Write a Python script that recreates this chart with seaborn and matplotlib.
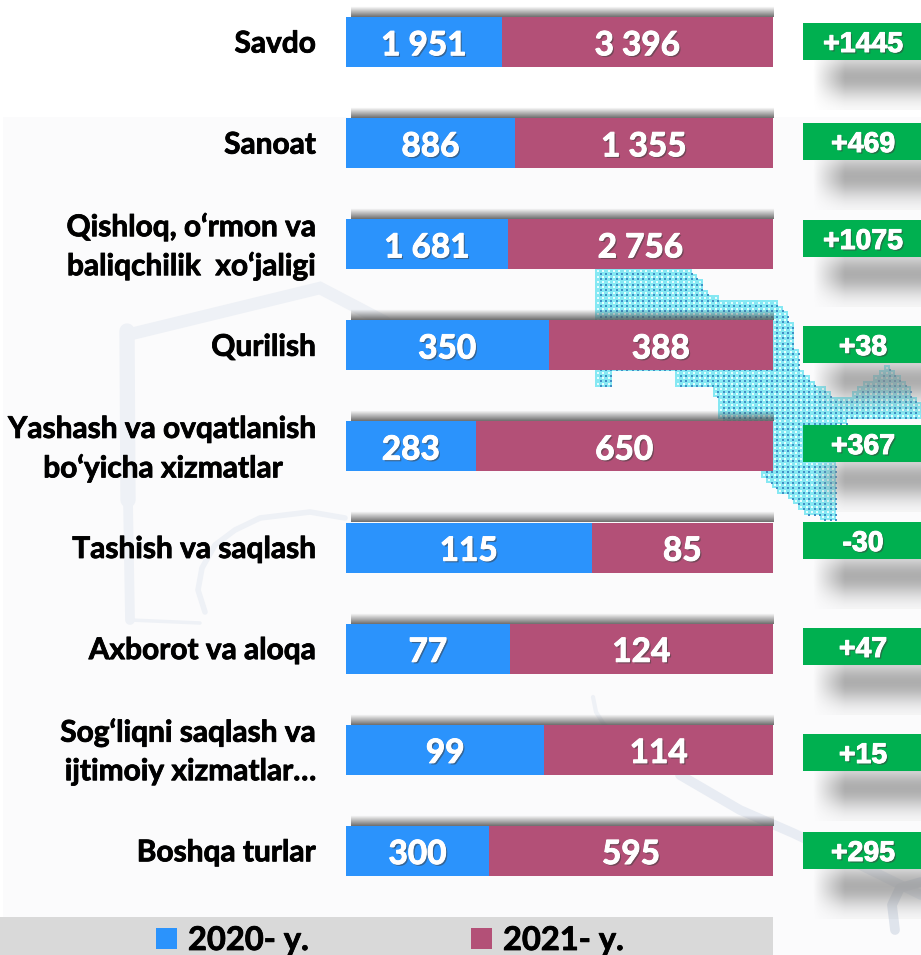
import numpy as np
import pandas as pd
import matplotlib
matplotlib.use('Agg')
import matplotlib.pyplot as plt
import matplotlib.patheffects as pe
from matplotlib.patches import Rectangle
from matplotlib.path import Path
import seaborn as sns

# Data
categories = ['Savdo', 'Sanoat', 'Qishloq, o‘rmon va\nbaliqchilik  xo‘jaligi', 'Qurilish',
              'Yashash va ovqatlanish\nbo‘yicha xizmatlar', 'Tashish va saqlash',
              'Axborot va aloqa', 'Sog‘liqni saqlash va\nijtimoiy xizmatlar…', 'Boshqa turlar']
values_2020 = [1951, 886, 1681, 350, 283, 115, 77, 99, 300]
values_2021 = [3396, 1355, 2756, 388, 650, 85, 124, 114, 595]
changes = ['+1445', '+469', '+1075', '+38', '+367', '-30', '+47', '+15', '+295']
legend_labels = ['2020- y.', '2021- y.']

# Colours and layout (pixels)
W, H = 921, 955
BLUE, MAROON, GREEN = '#2b93fc', '#b35077', '#00b050'
BAR_L, BAR_R = 346, 773
FIRST_C, PITCH, BAR_H = 42.0, 101.1, 50
box_tops = [23, 123, 220, 326, 425, 522, 628, 734, 832]
centers = [FIRST_C + PITCH * i for i in range(len(categories))]

sns.set_theme(style='white')
plt.rcParams['font.family'] = ['Lato', 'DejaVu Sans']

df = pd.DataFrame({'category': categories, 'v2020': values_2020, 'v2021': values_2021})
df['total'] = df['v2020'] + df['v2021']
df['share'] = df['v2020'] / df['total'] * 100
df['full'] = 100.0

fig = plt.figure(figsize=(W / 100, H / 100), dpi=100)

# Background layer in pixel coordinates
bg = fig.add_axes([0, 0, 1, 1], zorder=0)
bg.set_xlim(0, W)
bg.set_ylim(H, 0)
bg.axis('off')
bg.add_patch(Rectangle((3, 117), W - 3, H - 117, color='#fbfbfc', lw=0, zorder=0))

# faint watermark shapes
wm = '#eef1f6'
bg.plot([127, 320, 385], [335, 288, 322], color=wm, lw=9, solid_joinstyle='miter', zorder=1)
bg.plot([127, 128], [331, 500], color=wm, lw=11, zorder=1)
bg.plot([128, 130], [500, 620], color=wm, lw=7, zorder=1)
bg.plot([130, 200], [620, 623], color=wm, lw=2.5, zorder=1)
bg.plot([205, 198, 202, 215, 235, 260, 310, 345], [612, 590, 568, 545, 530, 518, 512, 518], color=wm, lw=4, zorder=1)
bg.plot([680, 740, 793, 850, 921], [775, 810, 833, 860, 895], color='#e8ecf3', lw=7, zorder=1)
bg.plot([593, 596, 603, 625], [697, 712, 723, 745], color=wm, lw=3, zorder=1)
bg.plot([895, 892, 900, 921], [930, 905, 888, 882], color='#dfe4ec', lw=7, zorder=1)

# dotted map patch
outline = Path([(598, 270), (693, 270), (707, 293), (730, 303), (778, 303), (790, 320), (800, 370),
                (837, 400), (853, 393), (887, 367), (907, 387), (921, 403), (921, 417), (860, 417),
                (838, 425), (838, 522), (807, 515), (767, 480), (720, 417), (713, 388), (678, 388),
                (678, 372), (598, 372)])
blob = Path([(598, 372), (613, 372), (613, 388), (598, 388)])
gx, gy = np.meshgrid(np.arange(598, W, 5.35), np.arange(266, 530, 5.35))
pts = np.column_stack([gx.ravel(), gy.ravel()])
pts = pts[outline.contains_points(pts) | blob.contains_points(pts)]
bg.scatter(pts[:, 0], pts[:, 1], s=15, marker='s', color='#86e8f3', lw=0, zorder=1)
bg.scatter(pts[:, 0] + 2.67, pts[:, 1] + 2.67, s=1.6, marker='s', color='#3f8fc6', lw=0, zorder=1.1)
bg.scatter(pts[:, 0], pts[:, 1], s=3, marker='s', color='#e4fdfe', lw=0, zorder=1.1)

# shadow above each bar
grad = np.zeros((12, 1, 4))
grad[..., :3] = 0.35
grad[:, 0, 3] = np.linspace(0, 0.85, 12)
for c in centers:
    top = c - BAR_H / 2
    bg.imshow(grad, extent=(BAR_L + 5, BAR_R, top, top - 11), aspect='auto', zorder=2, interpolation='bilinear')

# blurred shadow under the green boxes
sx = np.clip((np.arange(32) - 1) / 9, 0, 1)
sy = np.exp(-((np.arange(16) - 5.0) / 6.5) ** 2)
blur = np.zeros((16, 32, 4))
blur[..., :3] = 0.55
blur[..., 3] = np.outer(sy, sx) * 0.7
for top in box_tops:
    bg.imshow(blur, extent=(808, W, top + 37 + 50, top + 37), aspect='auto', zorder=2, interpolation='bilinear')
bg.set_xlim(0, W)
bg.set_ylim(H, 0)

shadow = [pe.withSimplePatchShadow(offset=(1.2, -1.2), shadow_rgbFace='#404040', alpha=0.55),
          pe.withStroke(linewidth=0.7, foreground='white')]
heavy = [pe.withStroke(linewidth=0.6, foreground='black')]

# green change boxes
for top, label in zip(box_tops, changes):
    bg.add_patch(Rectangle((803, top), W - 803, 37, color=GREEN, lw=0, zorder=3))
    bg.text(863, top + 19, label, ha='center', va='center_baseline', color='white', fontsize=20.5,
            fontweight='bold', family='Liberation Sans', zorder=4, path_effects=shadow)

# legend strip
bg.add_patch(Rectangle((0, 917), BAR_R, H - 917, color='#d9d9d9', lw=0, zorder=3))
for x0, color, label in zip([156, 471], [BLUE, MAROON], legend_labels):
    bg.add_patch(Rectangle((x0, 928), 21, 21, color=color, lw=0, zorder=4))
    bg.text(x0 + 32, 938, label, ha='left', va='center_baseline', fontsize=23.5, fontweight='bold',
            color='black', zorder=4, path_effects=heavy)

# Bars: 100% stacked, 2021 drawn full width with the 2020 share on top
ax = fig.add_axes([BAR_L / W, 0, (BAR_R - BAR_L) / W, 1], zorder=2)
ax.patch.set_alpha(0)
width = BAR_H / PITCH
sns.barplot(data=df, y='category', x='full', color=MAROON, saturation=1, width=width, ax=ax, linewidth=0)
sns.barplot(data=df, y='category', x='share', color=BLUE, saturation=1, width=width, ax=ax, linewidth=0)
ax.set_xlim(0, 100)
ax.set_ylim((H - FIRST_C) / PITCH, -FIRST_C / PITCH)
ax.set_xlabel('')
ax.set_ylabel('')
ax.set_xticks([])
ax.set_yticks([])
sns.despine(ax=ax, left=True, bottom=True)


def fmt(v):
    return f'{v:,}'.replace(',', ' ')


def put_label(x, y, s, ha='right'):
    bg.text(x, y, s, ha=ha, va='center_baseline', fontsize=21.5, fontweight='bold',
            color='black', zorder=4, path_effects=heavy)


for i, row in df.iterrows():
    ax.text(row['share'] / 2, i + 0.012, fmt(row['v2020']), ha='center', va='center_baseline', color='white',
            fontsize=24, fontweight='bold', path_effects=shadow)
    ax.text((row['share'] + 100) / 2, i + 0.012, fmt(row['v2021']), ha='center', va='center_baseline',
            color='white', fontsize=24, fontweight='bold', path_effects=shadow)
    lines = row['category'].split('\n')
    if i == 4:
        # second line of this label is centred under the first in the source
        put_label(316, centers[i] - 20, lines[0])
        put_label(163, centers[i] + 19, lines[1], ha='center')
    elif len(lines) == 2:
        put_label(316, centers[i] - 20, lines[0])
        put_label(316, centers[i] + 19, lines[1])
    else:
        put_label(316, centers[i] - 1, lines[0])

fig.savefig('out.png', dpi=100)
